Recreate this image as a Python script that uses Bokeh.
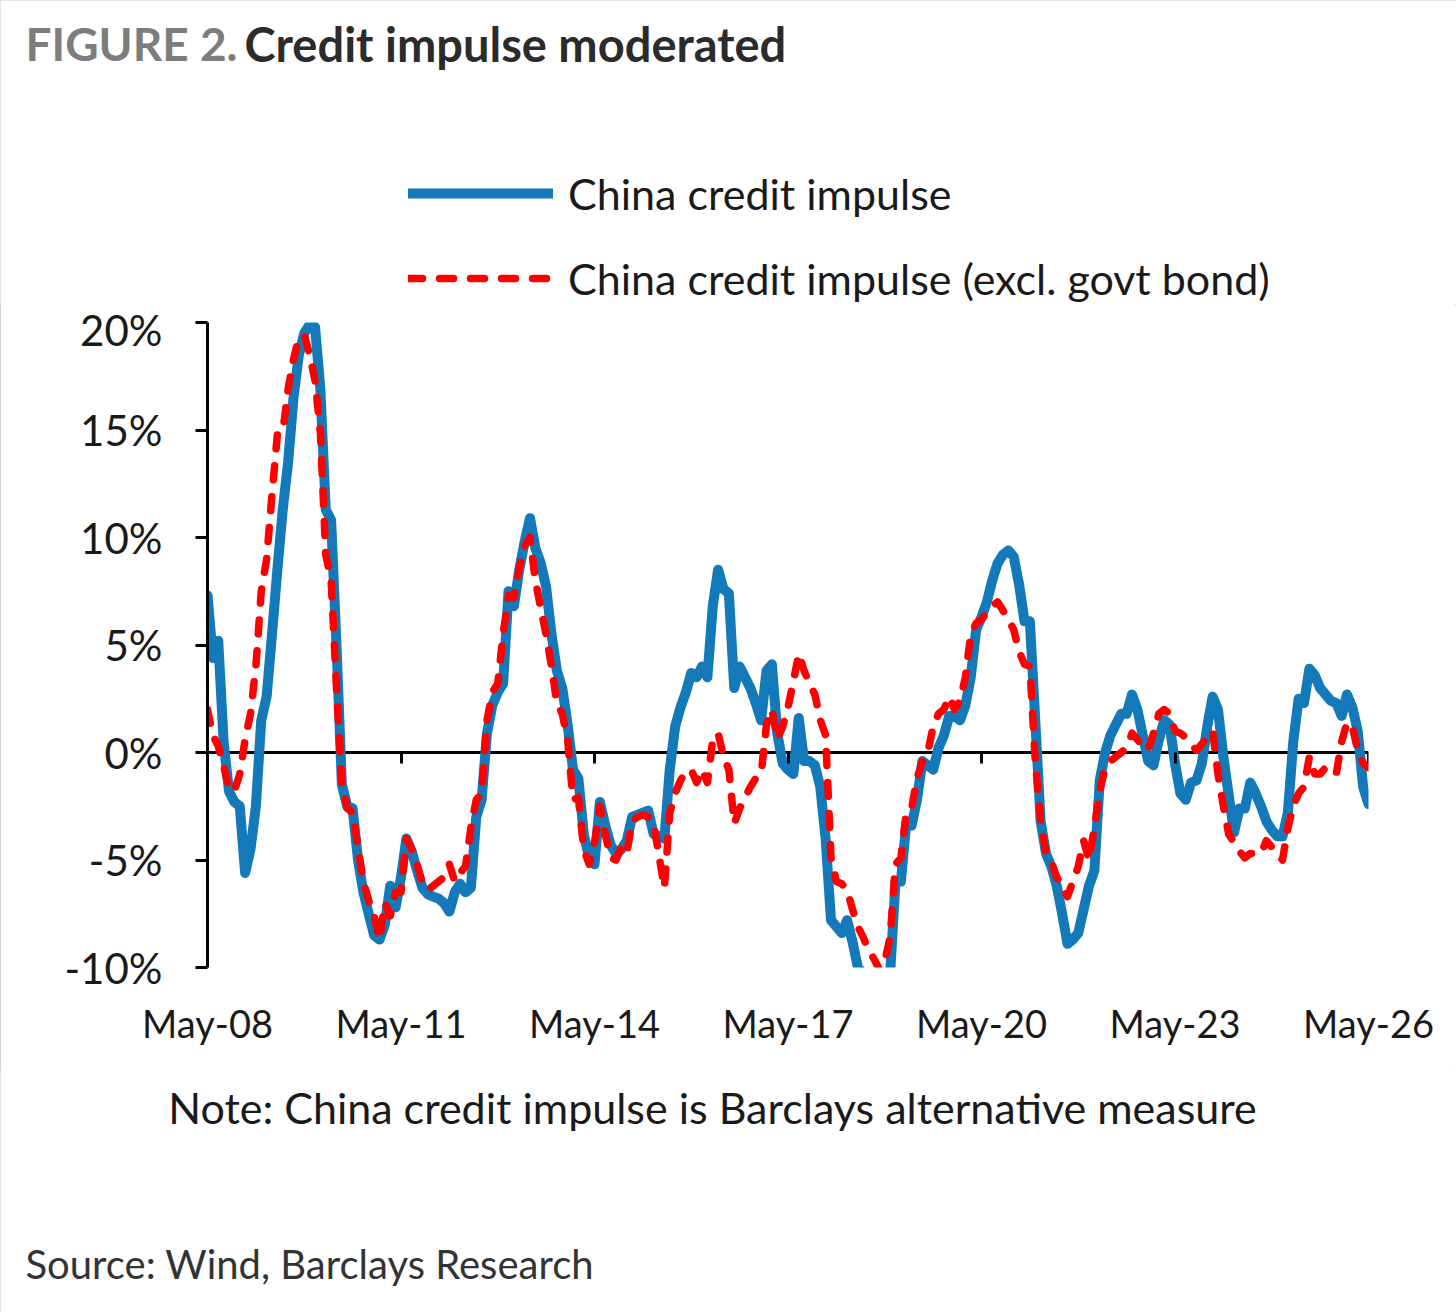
from bokeh.plotting import figure
from bokeh.layouts import column
from bokeh.models import (Range1d, FixedTicker, PrintfTickFormatter, Span, Label,
                          Legend, LegendItem, LinearAxis)
from bokeh.embed import file_html
from bokeh.resources import INLINE

# ---------------- data (monthly, May-2008 .. May-2026), % ----------------
tick_labels = ["May-08", "May-11", "May-14", "May-17", "May-20", "May-23", "May-26"]
y_ticks = [-10, -5, 0, 5, 10, 15, 20]
series_names = ["China credit impulse", "China credit impulse (excl. govt bond)"]

blue = [
    7.3, 4.4, 5.2, 0.5, -1.8, -2.3, -2.5, -5.6, -4.5, -2.5, 1.5, 2.6,
    5.5, 8.5, 11.3, 13.5, 16.5, 18.5, 19.5, 19.9, 19.8, 16.9, 11.3, 10.8,
    5.0, -1.5, -2.5, -2.6, -5.0, -6.5, -7.5, -8.5, -8.7, -8.0, -6.2, -7.2,
    -5.8, -4.0, -4.6, -5.5, -6.3, -6.6, -6.7, -6.8, -7.0, -7.4, -6.5, -6.1,
    -6.5, -6.3, -3.0, -2.2, 0.9, 2.2, 2.8, 3.2, 7.5, 6.8, 8.5, 9.8,
    10.9, 9.5, 8.8, 7.7, 5.5, 3.8, 3.0, 1.3, -0.8, -1.2, -3.8, -4.9,
    -5.2, -2.3, -3.4, -4.3, -4.7, -4.5, -4.1, -3.0, -2.9, -2.8, -2.7, -3.8,
    -3.9, -4.0, -0.8, 1.2, 2.1, 2.8, 3.7, 3.5, 4.0, 3.5, 6.8, 8.5,
    7.6, 7.4, 3.0, 4.0, 3.5, 3.0, 2.3, 1.5, 3.8, 4.1, 0.9, -0.5,
    -0.8, -1.0, 1.6, -0.4, -0.4, -0.6, -1.6, -4.0, -7.8, -8.1, -8.4, -7.8,
    -8.8, -10.0, -10.3, -10.3, -10.3, -10.3, -10.3, -10.3, -6.0, -6.0, -3.3, -3.4,
    -2.2, -0.4, -0.6, -0.8, 0.2, 0.8, 1.7, 1.7, 1.5, 2.2, 3.5, 5.7,
    6.3, 7.0, 8.0, 8.8, 9.2, 9.4, 9.1, 7.8, 6.1, 6.1, 1.5, -3.2,
    -4.7, -5.3, -6.2, -7.5, -8.9, -8.7, -8.4, -7.3, -6.2, -5.5, -1.3, 0.0,
    0.8, 1.3, 1.8, 1.8, 2.7, 2.0, 0.8, -0.4, -0.6, 0.6, 1.5, 1.3,
    -0.5, -1.9, -2.2, -1.4, -1.3, -0.5, 1.2, 2.6, 2.0, -0.2, -2.0, -3.7,
    -2.6, -2.6, -1.4, -1.9, -2.5, -3.2, -3.6, -3.9, -3.9, -2.8, 0.5, 2.5,
    2.3, 3.9, 3.6, 3.0, 2.7, 2.4, 2.3, 1.7, 2.7, 2.1, 1.0, -1.6,
    -2.4,
]

red = [
    2.0, 0.8, 0.3, -0.6, -1.7, -1.8, -1.0, 0.6, 1.8, 4.0, 7.5, 9.0,
    12.0, 14.8, 14.9, 16.9, 18.3, 19.3, 19.4, 18.5, 17.3, 14.9, 9.2, 8.0,
    3.0, -1.5, -2.6, -2.8, -4.4, -6.0, -6.9, -7.6, -8.7, -7.0, -7.6, -6.5,
    -6.5, -4.0, -4.5, -5.2, -6.1, -6.4, -6.2, -6.0, -5.8, -5.2, -6.0, -5.6,
    -5.3, -3.5, -2.2, -1.9, 1.5, 2.8, 3.2, 5.5, 7.3, 7.2, 8.6, 9.6,
    10.0, 8.0, 6.7, 5.5, 4.0, 2.3, 1.8, 0.6, -2.2, -2.1, -4.5, -5.2,
    -4.2, -2.5, -3.8, -4.9, -5.0, -4.4, -4.7, -3.2, -3.0, -2.9, -3.0, -3.3,
    -4.8, -6.3, -2.8, -1.9, -1.3, -0.9, -0.8, -1.4, -0.8, -1.4, 0.6, 0.9,
    -0.2, -0.8, -3.3, -2.6, -2.1, -1.6, -1.2, -1.0, 1.3, 2.0, 0.6, 1.2,
    2.1, 3.3, 4.6, 3.8, 3.2, 2.7, 1.5, 0.8, -4.9, -6.0, -6.1, -6.4,
    -7.3, -8.1, -8.6, -9.2, -9.6, -10.1, -9.7, -8.6, -5.2, -4.9, -2.8, -2.6,
    -1.2, -0.4, 0.0, 1.2, 1.8, 2.0, 2.6, 2.0, 2.4, 3.5, 5.5, 6.0,
    6.2, 6.5, 6.8, 7.0, 6.6, 6.2, 5.7, 4.7, 4.1, 4.0, -0.4, -3.2,
    -4.7, -5.1, -5.8, -6.2, -6.7, -6.0, -5.3, -4.1, -5.0, -3.5, -1.8, -0.7,
    -0.4, -0.2, 0.0, 0.2, 0.9, 0.6, 0.3, 0.1, 0.9, 1.8, 2.0, 1.8,
    1.0, 0.9, 0.7, 0.4, 0.1, 0.4, 0.7, 1.0, -1.0, -2.5, -3.8, -4.2,
    -4.6, -4.9, -4.7, -4.7, -4.7, -4.1, -4.4, -4.7, -5.0, -3.5, -2.5, -1.9,
    -1.6, -0.2, -1.0, -1.0, -0.7, -0.9, -1.0, 0.5, 1.4, 1.2, 0.1, -0.5,
    -0.7,
]

months = list(range(len(blue)))
tick_months = [i * 36 for i in range(len(tick_labels))]

# ---------------- styles ----------------
W = 1456
H_HEAD, H_MAIN, H_FOOT = 304, 766, 242
FONT = "Lato"
TXT = "#1a1a1a"
BLUE = "#1479b8"
RED = "#ff0000"
blue_style = dict(line_color=BLUE, line_width=10, line_join="round", line_cap="round")
red_style = dict(line_color=RED, line_width=7.5, line_dash="14 17", line_join="round",
                 line_cap="round")


def blank(h):
    f = figure(width=W, height=h, x_range=Range1d(0, W), y_range=Range1d(h, 0),
               x_axis_type=None, y_axis_type=None, toolbar_location=None,
               output_backend="svg", min_border=0, title=None)
    f.outline_line_color = None
    f.background_fill_color = "white"
    f.border_fill_color = "white"
    f.frame_align = False
    return f


# ---------------- header: title + legend ----------------
head = blank(H_HEAD)
head.add_layout(Label(x=25, y=43, text="FIGURE 2.", text_font=FONT, text_font_style="bold",
                      text_font_size="46px", text_color="#7d7d7d", text_baseline="middle"))
head.add_layout(Label(x=244, y=43, text="Credit impulse moderated", text_font=FONT,
                      text_font_style="bold", text_font_size="47px", text_color="#2b2b2b",
                      text_baseline="middle"))
# legend swatches: off-screen single points that only carry the style
lb = head.line(x=[-50], y=[-50], **blue_style)
lr = head.line(x=[-50], y=[-50], **red_style)
legend = Legend(items=[LegendItem(label=series_names[0], renderers=[lb]),
                       LegendItem(label=series_names[1], renderers=[lr])],
                location=(408, H_HEAD - 305), orientation="vertical",
                glyph_width=145, glyph_height=54, label_height=54, label_standoff=15,
                spacing=31, padding=0, margin=0, border_line_color=None,
                background_fill_alpha=0, label_text_font=FONT,
                label_text_font_size="43px", label_text_color=TXT)
head.add_layout(legend)

# ---------------- main chart ----------------
L, R = 207, 1368
p = figure(width=W, height=H_MAIN, output_backend="svg", toolbar_location=None, title=None,
           x_range=Range1d(0, tick_months[-1]), y_range=Range1d(y_ticks[0], y_ticks[-1]),
           min_border_left=L, min_border_right=W - R, min_border_top=322 - H_HEAD,
           min_border_bottom=H_HEAD + H_MAIN - 967)
p.frame_align = False
p.outline_line_color = None
p.xgrid.visible = False
p.ygrid.visible = False
p.background_fill_color = "white"
p.border_fill_color = "white"

ya = p.yaxis[0]
ya.ticker = FixedTicker(ticks=y_ticks)
ya.formatter = PrintfTickFormatter(format="%d%%")
ya.axis_line_color = "black"
ya.axis_line_width = 3
ya.major_tick_line_color = "black"
ya.major_tick_line_width = 3
ya.major_tick_out = 12
ya.major_tick_in = 0
ya.minor_tick_line_color = None
ya.major_label_standoff = 33
ya.major_label_text_font = FONT
ya.major_label_text_font_size = "42px"
ya.major_label_text_color = TXT

xa = p.xaxis[0]
xa.ticker = FixedTicker(ticks=tick_months)
xa.major_label_overrides = {m: lab for m, lab in zip(tick_months, tick_labels)}
xa.axis_line_color = None
xa.major_tick_line_color = None
xa.minor_tick_line_color = None
xa.major_label_standoff = 26
xa.major_label_text_font = FONT
xa.major_label_text_font_size = "38px"
xa.major_label_text_color = TXT

p.add_layout(Span(location=0, dimension="width", line_color="black", line_width=3,
                  level="underlay"))
zax = LinearAxis(fixed_location=0, ticker=FixedTicker(ticks=tick_months[1:]),
                 axis_line_color=None, major_tick_out=11, major_tick_in=0,
                 major_tick_line_width=3, major_tick_line_color="black",
                 minor_tick_line_color=None, major_label_text_color=None,
                 major_label_text_font_size="1px")
p.add_layout(zax, "below")

p.line(months, blue, **blue_style)
p.line(months, red, **red_style)

# ---------------- footer: note + source ----------------
foot = blank(H_FOOT)
y0 = H_HEAD + H_MAIN
foot.add_layout(Label(x=712, y=1107 - y0,
                      text="Note: China credit impulse is Barclays alternative measure",
                      text_font=FONT, text_font_size="43px", text_color=TXT,
                      text_align="center", text_baseline="middle"))
foot.add_layout(Label(x=25, y=1263 - y0, text="Source: Wind, Barclays Research", text_font=FONT,
                      text_font_size="40px", text_color="#333333", text_baseline="middle"))

page = column(head, p, foot, spacing=0,
              styles={"outline": "1px solid #c8c8c8", "outline-offset": "-1px"})

open("out.html", "w").write(file_html(page, INLINE))
